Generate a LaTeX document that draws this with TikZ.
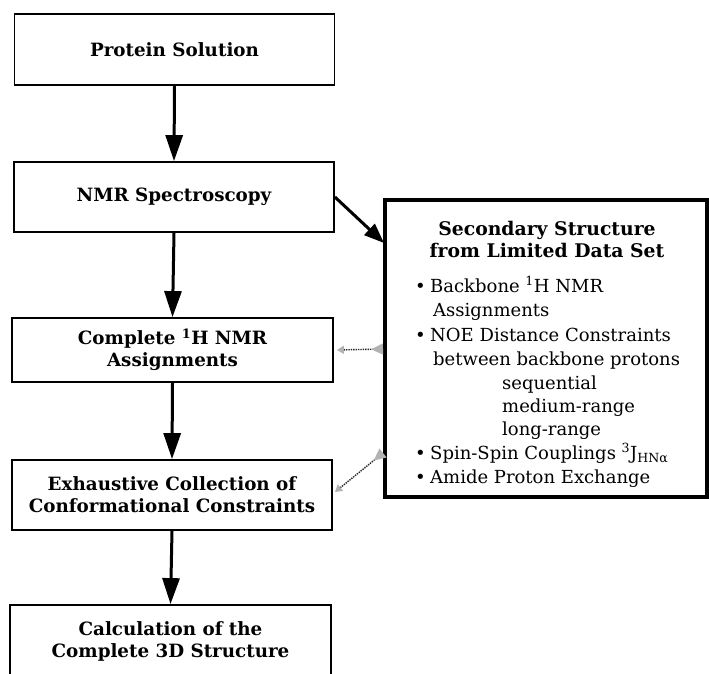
\documentclass[tikz,border=0pt]{standalone}
\usepackage{fontspec}
\setmainfont{DejaVu Serif}
\usetikzlibrary{arrows.meta}
\begin{document}
\begin{tikzpicture}[x=1pt,y=-1pt,
  flowbox/.style={draw, line width=1.8pt, minimum width=320pt, inner sep=0pt,
    font=\fontsize{18.3}{22}\selectfont\bfseries, align=center},
  flowarrow/.style={line width=3pt, -{Triangle[length=26pt,width=17pt]}},
  sidearrow/.style={line width=3pt, -{Triangle[length=20pt,width=15pt]}},
  dotconn/.style={line width=1.4pt, densely dotted, black!85,
    {Triangle[length=7pt,width=8pt,color=gray!60,fill=gray!60]}-{Triangle[reversed,length=12pt,width=11pt,color=gray!60,fill=gray!60]}},
  boxtxt/.style={anchor=base west, inner sep=0pt, font=\fontsize{18}{22}\selectfont},
  boxtitle/.style={anchor=base, inner sep=0pt, font=\fontsize{18.8}{22}\selectfont\bfseries}]
\useasboundingbox (0,0) rectangle (709,674);
\clip (0,0) rectangle (709,674);
\fill[white] (0,0) rectangle (709,674);

% left column
\node[flowbox, minimum height=71pt] (ps) at (174.5,49.5) {Protein Solution};
\node[flowbox, minimum height=70pt] (nmr) at (174,197) {NMR Spectroscopy};
\node[flowbox, minimum width=321pt, minimum height=64pt] (chn) at (172.5,350)
  {Complete \textsuperscript{1}H NMR\\Assignments};
\node[flowbox, minimum height=70pt] (exh) at (172,495)
  {Exhaustive Collection of\\Conformational Constraints};
\node[flowbox, minimum width=321pt, minimum height=72pt] (calc) at (170.5,641)
  {Calculation of the\\Complete 3D Structure};

\draw[flowarrow] (ps.south) -- (nmr.north);
\draw[flowarrow] (nmr.south) -- (chn.north);
\draw[flowarrow] (chn.south) -- (exh.north);
\draw[flowarrow] (exh.south) -- (calc.north);

% right box
\node[draw, line width=3.5pt, minimum width=322pt, minimum height=297pt, inner sep=0pt] (big) at (546,348.5) {};
\node[boxtitle] (ti1) at (547,235) {Secondary Structure};
\node[boxtitle] (ti2) at (547,257) {from Limited Data Set};
\node[boxtxt] (l1) at (415,292) {\makebox[15pt][l]{•}Backbone \textsuperscript{1}H NMR};
\node[boxtxt] (l2) at (433,316) {Assignments};
\node[boxtxt] (l3) at (415,341) {\makebox[15pt][l]{•}NOE Distance Constraints};
\node[boxtxt] (l4) at (433,365) {between backbone protons};
\node[boxtxt] (l5) at (502,389) {sequential};
\node[boxtxt] (l6) at (502,412) {medium-range};
\node[boxtxt] (l7) at (502,435) {long-range};
\node[boxtxt] (l8) at (415,459) {\makebox[15pt][l]{•}Spin-Spin Couplings \textsuperscript{3}J\textsubscript{HNα}};
\node[boxtxt] (l9) at (415,483) {\makebox[15pt][l]{•}Amide Proton Exchange};

% connectors to right box
\coordinate (e0) at (384,243);
\coordinate (e1) at (383,349);
\coordinate (e2) at (383,453);
\coordinate (s2) at (335,492);
\draw[sidearrow] (nmr.east) -- (e0);
\draw[dotconn] ([xshift=3pt]chn.east) -- (e1);
\draw[dotconn] (s2) -- (e2);
\end{tikzpicture}
\end{document}
